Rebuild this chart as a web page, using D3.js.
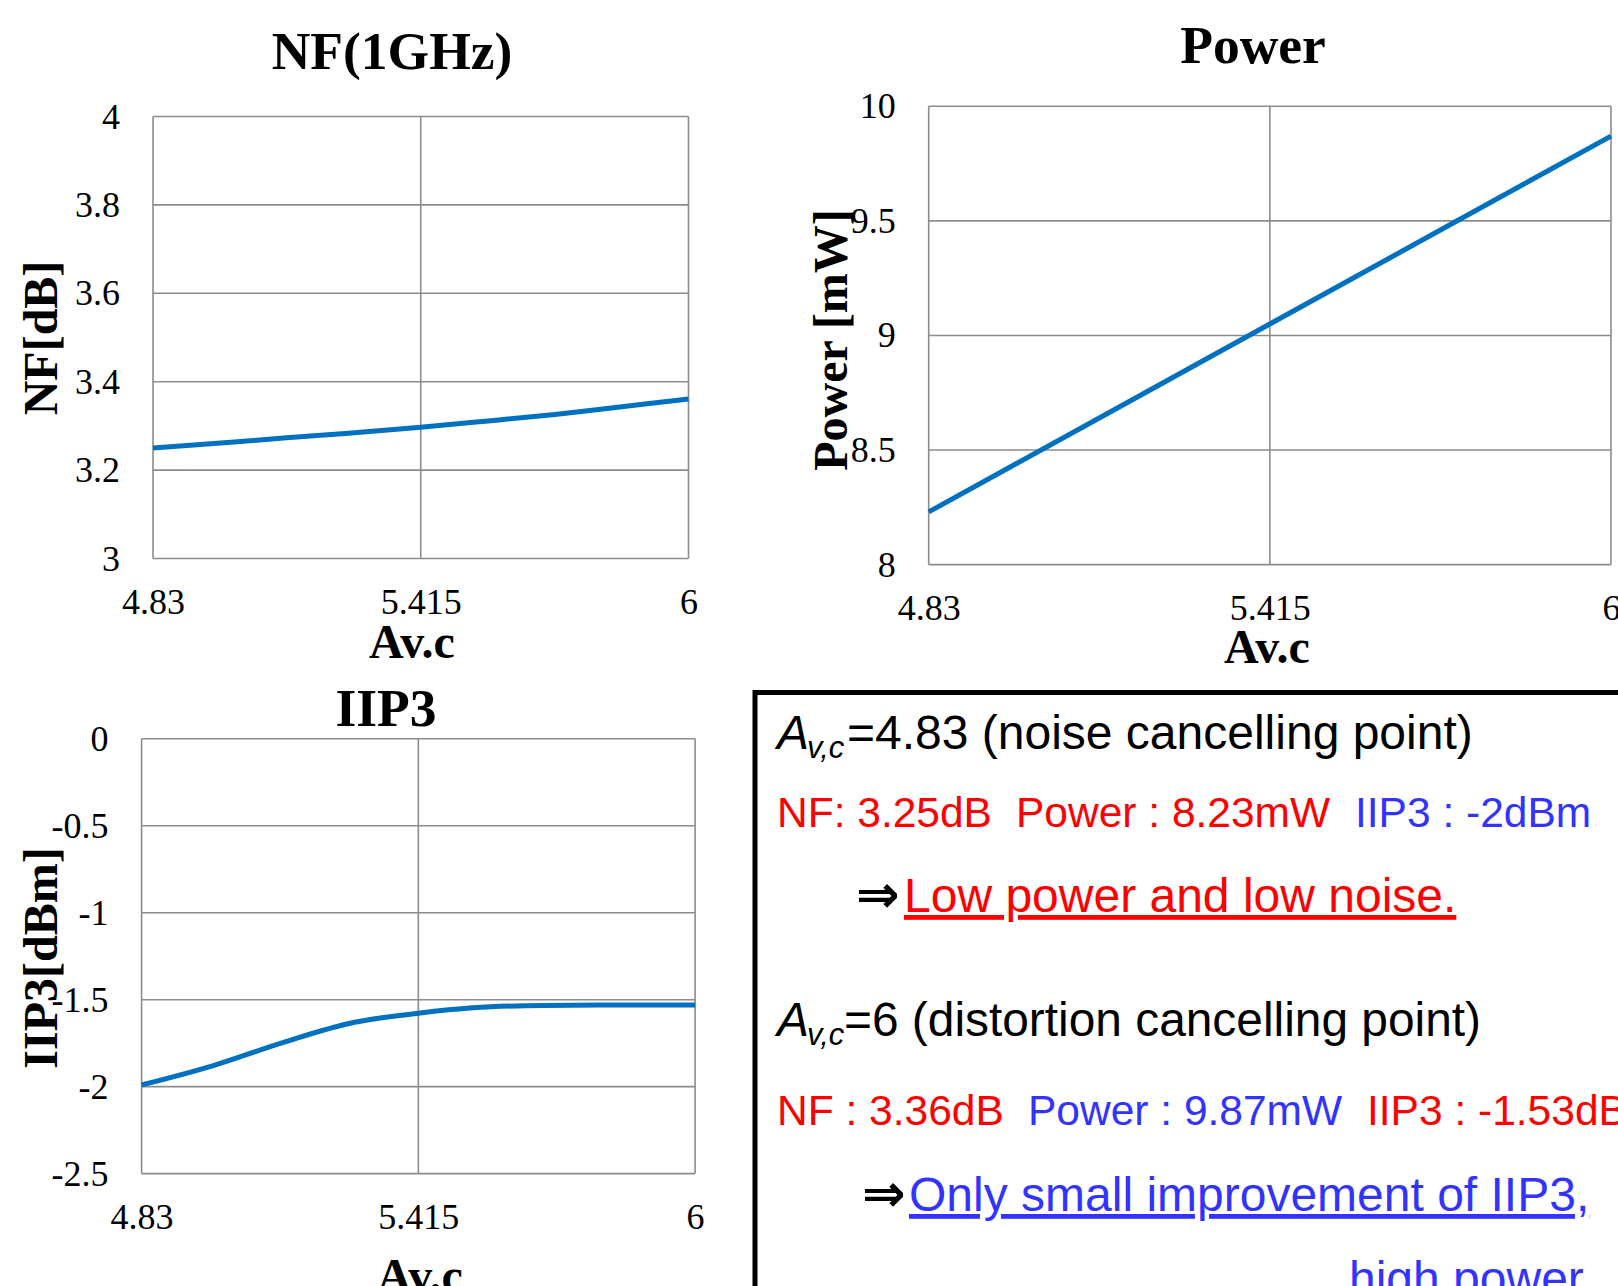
<!DOCTYPE html>
<html>
<head>
<meta charset="UTF-8">
<title>Av.c sweep: NF, Power, IIP3</title>
<script src="https://d3js.org/d3.v7.min.js"></script>
<style>
  body { margin: 0; background: #fff; overflow: hidden; }
  .tick text { font-family: "Liberation Serif", "Times New Roman", serif; font-size: 36px; fill: #000; }
  .grid line { stroke: #8c8c8c; stroke-width: 1.6px; }
  .title { font-family: "Liberation Serif", serif; font-weight: bold; font-size: 53.5px; }
  .ylab { font-family: "Liberation Serif", serif; font-weight: bold; font-size: 48px; }
  .xlab { font-family: "Liberation Serif", serif; font-weight: bold; font-size: 48px; }
  .note { font-family: "Liberation Sans", Arial, "DejaVu Sans", sans-serif; }
</style>
</head>
<body>
<script>
// x axis: Av.c
var avcTicks = [4.83, 5.415, 6];
var avcLabels = ["4.83", "5.415", "6"];

// NF(1GHz)
var nfAvc    = [4.83, 5.0, 5.122, 5.25, 5.415, 5.55, 5.708, 5.85, 6];
var nfValues = [3.25, 3.263, 3.273, 3.283, 3.297, 3.31, 3.326, 3.343, 3.361];
var nfTicks  = [3, 3.2, 3.4, 3.6, 3.8, 4];
var nfLabels = ["3", "3.2", "3.4", "3.6", "3.8", "4"];

// Power
var pwAvc    = [4.83, 5.1225, 5.415, 5.7075, 6];
var pwValues = [8.23, 8.64, 9.05, 9.46, 9.87];
var pwTicks  = [8, 8.5, 9, 9.5, 10];
var pwLabels = ["8", "8.5", "9", "9.5", "10"];

// IIP3
var ipAvc    = [4.83, 4.98, 5.13, 5.28, 5.415, 5.53, 5.68, 5.83, 6];
var ipValues = [-1.99, -1.88, -1.745, -1.63, -1.578, -1.547, -1.533, -1.531, -1.53];
var ipTicks  = [-2.5, -2, -1.5, -1, -0.5, 0];
var ipLabels = ["-2.5", "-2", "-1.5", "-1", "-0.5", "0"];

var svg = d3.select("body").append("svg")
    .attr("width", 1618)
    .attr("height", 1286);

function panel(o) {
    var x = d3.scaleLinear().domain([4.83, 6]).range([o.left, o.right]);
    var y = d3.scaleLinear().domain([o.yTicks[0], o.yTicks[o.yTicks.length - 1]]).range([o.bottom, o.top]);
    var g = svg.append("g");

    // grid (edges act as the frame)
    g.append("g").attr("class", "grid").selectAll("line")
        .data(o.yTicks).join("line")
        .attr("x1", o.left).attr("x2", o.right)
        .attr("y1", function (d) { return y(d); })
        .attr("y2", function (d) { return y(d); });
    g.append("g").attr("class", "grid").selectAll("line")
        .data(avcTicks).join("line")
        .attr("y1", o.top).attr("y2", o.bottom)
        .attr("x1", function (d) { return x(d); })
        .attr("x2", function (d) { return x(d); });

    // axes
    g.append("g")
        .attr("transform", "translate(" + o.left + ",0)")
        .call(d3.axisLeft(y).tickValues(o.yTicks)
            .tickFormat(function (d, i) { return o.yLabels[i]; })
            .tickSize(0).tickPadding(33))
        .call(function (a) { a.select(".domain").remove(); });
    g.append("g")
        .attr("transform", "translate(0," + o.bottom + ")")
        .call(d3.axisBottom(x).tickValues(avcTicks)
            .tickFormat(function (d, i) { return avcLabels[i]; })
            .tickSize(0).tickPadding(30))
        .call(function (a) { a.select(".domain").remove(); });

    // series
    var line = d3.line()
        .x(function (d) { return x(d[0]); })
        .y(function (d) { return y(d[1]); })
        .curve(d3.curveMonotoneX);
    g.append("path")
        .datum(d3.zip(o.xs, o.ys))
        .attr("d", line)
        .attr("fill", "none")
        .attr("stroke", "#0070c0")
        .attr("stroke-width", 5);

    // labels
    g.append("text").attr("class", "title")
        .attr("x", o.titleX).attr("y", o.titleY)
        .attr("text-anchor", "middle").text(o.title);
    g.append("text").attr("class", "xlab")
        .attr("x", o.xlabX).attr("y", o.xlabY)
        .attr("text-anchor", "middle").text("Av.c");
    g.append("text").attr("class", "ylab")
        .attr("text-anchor", "middle")
        .attr("transform", "translate(" + o.ylabX + "," + o.ylabY + ") rotate(-90)")
        .text(o.ylabel);
}

panel({ left: 153, right: 688.5, top: 116.5, bottom: 558.5,
        yTicks: nfTicks, yLabels: nfLabels, xs: nfAvc, ys: nfValues,
        title: "NF(1GHz)", titleX: 392, titleY: 69,
        xlabX: 412, xlabY: 658, ylabel: "NF[dB]", ylabX: 57, ylabY: 338 });

panel({ left: 928.7, right: 1611, top: 106.3, bottom: 564.6,
        yTicks: pwTicks, yLabels: pwLabels, xs: pwAvc, ys: pwValues,
        title: "Power", titleX: 1253, titleY: 63,
        xlabX: 1267, xlabY: 663, ylabel: "Power [mW]", ylabX: 847, ylabY: 340 });

panel({ left: 141.6, right: 695.1, top: 738.8, bottom: 1173.6,
        yTicks: ipTicks, yLabels: ipLabels, xs: ipAvc, ys: ipValues,
        title: "IIP3", titleX: 386, titleY: 726,
        xlabX: 420, xlabY: 1292, ylabel: "IIP3[dBm]", ylabX: 57, ylabY: 958 });

// summary box
var box = svg.append("g").attr("class", "note");
box.append("rect")
    .attr("x", 755).attr("y", 692.5)
    .attr("width", 1000).attr("height", 800)
    .attr("fill", "none").attr("stroke", "#000").attr("stroke-width", 5);

var red = "#ff0000", blue = "#3333ff";

function avcHead(yb, rest, restX, restLen) {
    box.append("text").attr("x", 777).attr("y", yb)
        .attr("font-size", 48).attr("font-style", "italic").text("A");
    box.append("text").attr("x", 807).attr("y", yb + 9)
        .attr("font-size", 31).attr("font-style", "italic").text("v,c");
    var t = box.append("text").attr("x", restX).attr("y", yb)
        .attr("font-size", 48).text(rest);
    if (restLen) t.attr("textLength", restLen).attr("lengthAdjust", "spacingAndGlyphs");
}

function seg(x, yb, size, color, str, underline) {
    var t = box.append("text").attr("x", x).attr("y", yb)
        .attr("font-size", size).attr("fill", color).text(str);
    if (underline) t.style("text-decoration", "underline");
    return t;
}

avcHead(749, "=4.83 (noise cancelling point)", 847);
seg(777, 827, 42.5, red, "NF: 3.25dB");
seg(1016, 827, 42.5, red, "Power : 8.23mW");
seg(1355, 827, 42.5, blue, "IIP3 : -2dBm");
seg(856, 912, 52, "#000", "\u21d2").attr("font-weight", "bold");
seg(904, 912, 48, red, "Low power and low noise.", true);

avcHead(1036, "=6 (distortion cancelling point)", 844, 637);
seg(777, 1125, 42.5, red, "NF : 3.36dB");
seg(1028, 1125, 42.5, blue, "Power : 9.87mW");
seg(1367, 1125, 42.5, red, "IIP3 : -1.53dBm");
seg(862, 1211, 52, "#000", "\u21d2").attr("font-weight", "bold");
seg(909, 1211, 48, blue, "Only small improvement of IIP3,", true);
seg(1349, 1295, 48, blue, "high power.", true);
</script>
</body>
</html>
